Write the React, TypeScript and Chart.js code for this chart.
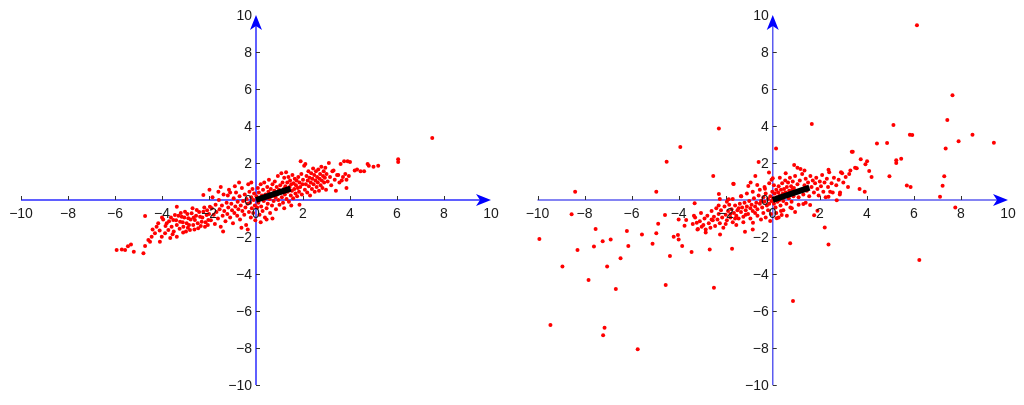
import React, { useEffect, useRef } from "react";
import { Chart, registerables } from "chart.js";

Chart.register(...registerables);

const tickValues = [-10, -8, -6, -4, -2, 0, 2, 4, 6, 8, 10];

const leftCloud: number[][] = [
  [-5.93,-2.70],[-5.71,-2.67],[-5.57,-2.70],[-5.45,-2.50],[-5.32,-2.41],[-5.20,-2.80],[-4.79,-2.88],[-4.72,-2.49],[-4.72,-0.86],[-4.58,-2.16],[-4.51,-2.25],[-4.44,-1.98],[-4.30,-1.80],[-4.23,-1.44],[-4.16,-1.26],[-4.09,-2.25],[-4.01,-1.98],[-3.87,-1.80],[-3.80,-1.26],[-3.73,-1.62],[-3.59,-1.44],[-3.52,-1.08],[-3.45,-0.81],[-3.37,-0.36],[-3.37,-1.35],[-3.37,-1.98],[-3.23,-1.17],[-3.16,-0.90],[-3.09,-1.44],[-3.02,-0.63],[-2.95,-1.26],[-2.88,-0.99],[-2.81,-1.62],[-2.74,-0.72],[-2.67,-1.35],[-2.60,-1.08],[-2.52,-0.54],[-2.46,-1.53],[-2.38,-0.90],[-2.31,-1.17],[-2.24,0.27],[-2.24,-0.63],[-2.17,-1.44],[-2.10,-0.81],[-2.03,-1.08],[-1.96,-0.36],
  [-3.95,-1.05],[-3.70,-1.15],[-3.62,-0.95],[-3.50,-1.70],[-3.40,-1.10],[-3.30,-0.85],[-3.25,-1.55],[-3.12,-1.20],[-3.05,-0.95],[-2.98,-1.70],[-2.92,-0.75],[-2.85,-1.35],[-2.78,-1.05],[-2.70,-0.45],[-2.62,-1.60],[-2.55,-0.85],[-2.48,-1.25],[-2.42,-0.65],[-2.35,-1.40],[-2.28,-0.95],[-2.20,-0.40],[-2.15,-1.20],[-2.08,-0.55],[-2.05,-1.35],[-2.00,-0.75],[-4.10,-1.65],[-3.85,-1.40],[-4.40,-1.60],[-4.00,-0.95],[-3.55,-1.85],[-3.20,-0.70],[-2.90,-1.50],[-2.65,-0.95],[-3.65,-2.05],[-3.10,-1.75],
  [-1.92,-1.10],[-1.88,-0.45],[-1.85,0.15],[-1.80,-0.80],[-1.75,-1.30],[-1.72,-0.25],[-1.68,-0.65],[-1.62,-1.00],[-1.58,0.00],[-1.55,-0.50],[-1.50,-1.45],[-1.45,-0.30],[-1.42,-0.85],[-1.38,0.30],[-1.35,-0.60],[-1.30,-1.15],[-1.25,-0.15],[-1.22,-0.75],[-1.18,-0.40],[-1.15,0.55],[-1.10,-0.95],[-1.05,-0.20],[-1.02,-0.55],[-0.98,-1.25],[-0.95,0.10],[-0.92,-0.70],[-0.88,-0.35],[-0.85,0.40],[-0.80,-0.85],[-0.78,-0.10],[-0.75,-0.50],[-0.70,0.20],[-0.68,-1.05],[-0.65,-0.30],[-0.60,0.65],[-0.58,-0.60],[-0.55,-0.05],[-0.50,-0.80],[-0.48,0.30],[-0.45,-0.40],[-0.42,-1.35],[-0.40,0.05],[-0.36,-0.20],[-0.33,0.85],[-0.30,-0.65],[-0.28,0.45],[-0.25,-0.15],[-0.22,-0.95],[-0.20,0.15],[-0.18,-0.45],[-0.15,0.60],[-0.12,-0.70],[-0.10,0.00],[-0.08,0.35],[-0.05,-0.30],[-0.03,-1.10],[-1.98,0.55],[-1.60,0.45],[-1.20,0.25],[-0.90,0.75],[-0.62,-1.50],[-0.35,-1.60],[-0.20,0.95],[-1.50,0.70],[-1.10,0.40],[-1.40,-1.70],[-0.72,0.95],
  [0.02,0.20],[0.05,-0.40],[0.08,0.65],[0.10,-0.15],[0.12,0.40],[0.15,-0.80],[0.18,0.05],[0.20,0.85],[0.22,-0.35],[0.25,0.25],[0.28,-0.60],[0.30,0.55],[0.33,-0.05],[0.35,0.95],[0.38,-0.95],[0.40,0.30],[0.43,0.10],[0.45,-0.45],[0.48,0.70],[0.50,-0.20],[0.53,0.45],[0.55,1.10],[0.58,0.05],[0.60,-0.70],[0.63,0.60],[0.65,0.20],[0.68,-0.30],[0.70,0.85],[0.73,0.35],[0.75,-0.05],[0.78,0.50],[0.80,1.00],[0.83,0.15],[0.85,-0.50],[0.88,0.70],[0.90,0.30],[0.93,1.30],[0.95,0.00],[0.98,0.55],[1.00,-0.25],[1.03,0.80],[1.05,0.40],[1.08,1.45],[1.10,0.15],[1.13,0.95],[1.15,-0.15],[1.18,0.60],[1.20,1.20],[1.23,0.30],[1.25,0.75],[1.28,1.50],[1.30,0.05],[1.33,0.95],[1.35,0.45],[1.38,1.25],[1.40,-0.10],[1.43,0.70],[1.45,1.05],[1.48,0.25],[1.50,0.85],[1.53,0.50],[1.55,1.35],[1.58,0.10],[1.60,0.90],[1.63,0.60],[1.65,1.15],[1.68,0.35],[1.70,0.80],[1.73,1.05],[1.75,0.20],[1.78,0.65],[1.80,1.25],[1.83,0.45],[1.85,0.95],[1.88,0.70],[1.90,2.10],[1.93,1.40],[1.95,0.30],[1.98,0.85],[0.45,-1.05],[0.20,-1.20],[0.70,-1.00],[1.20,-0.45],[1.50,-0.30],[1.85,-0.25],
  [2.00,1.10],[2.05,1.85],[2.08,0.55],[2.10,1.95],[2.12,0.85],[2.15,1.30],[2.18,0.40],[2.20,1.05],[2.23,1.55],[2.25,0.75],[2.28,1.20],[2.30,0.25],[2.33,0.95],[2.35,1.45],[2.38,0.60],[2.40,1.15],[2.43,1.70],[2.45,0.85],[2.48,1.35],[2.50,0.45],[2.53,1.05],[2.55,1.55],[2.58,0.70],[2.60,1.25],[2.63,0.95],[2.65,1.65],[2.68,0.50],[2.70,1.15],[2.73,1.40],[2.75,0.80],[2.78,1.80],[2.80,1.05],[2.83,0.65],[2.85,1.30],[2.88,1.55],[2.90,0.95],[2.93,1.20],[2.95,1.75],[2.98,0.55],[3.00,1.40],[3.05,1.00],[3.10,2.00],[3.15,1.25],[3.20,0.80],[3.25,1.55],[3.30,1.60],[3.35,1.10],[3.40,0.50],[3.45,1.35],[3.50,1.35],[3.55,0.95],[3.60,1.95],[3.65,1.05],[3.70,1.25],[3.75,2.10],[3.80,1.40],[3.85,0.65],[3.85,1.10],[3.90,2.10],[3.95,1.30],
  [4.00,2.05],[4.20,1.60],[4.30,1.65],[4.45,1.55],[4.60,1.55],[4.75,1.95],[4.80,1.85],[5.00,1.80],[5.20,1.85],[6.05,2.20],[6.05,2.05],[7.50,3.35]
];

const rightCloud: number[][] = [
  [-3.40,-1.30],[-3.30,-0.95],[-3.20,-1.60],[-3.10,-1.15],[-3.05,-0.70],[-2.95,-1.35],[-2.90,-1.00],[-2.85,-1.75],[-2.78,-0.85],[-2.72,-1.25],[-2.65,-1.50],[-2.60,-0.60],[-2.55,-1.10],[-2.50,-0.90],[-2.45,-1.40],[-2.40,-0.45],[-2.35,-1.05],[-2.30,-0.75],[-2.25,-1.25],[-2.20,-0.55],[-2.15,-0.95],[-2.10,-1.50],[-2.05,-0.35],[-2.00,-0.80],[-1.95,-1.10],[-1.90,-0.60],[-1.85,-0.25],[-1.80,-0.95],[-1.75,-0.50],[-1.70,-1.20],[-1.65,-0.70],[-1.60,-0.30],[-1.55,-0.85],[-1.50,-0.55],[-1.45,-1.00],[-1.40,-0.20],[-1.35,-0.65],[-1.30,-0.40],[-1.25,-0.90],[-1.20,-0.15],[-1.15,-0.55],[-1.10,-0.35],[-1.05,-0.75],[-1.00,-0.05],[-0.95,-0.45],[-0.90,-0.25],[-0.85,-0.60],[-0.80,0.10],[-0.75,-0.35],[-0.70,-0.15],[-0.65,-0.50],[-0.60,0.25],[-0.55,-0.20],[-0.50,-0.05],[-0.45,-0.40],[-0.40,0.15],[-0.35,-0.10],[-0.30,0.35],[-0.25,-0.30],[-0.20,0.05],[-0.15,-0.20],[-0.10,0.20],[-0.05,-0.05],[-0.02,0.45],[-1.95,-0.10],[-1.70,0.05],[-1.35,0.20],[-1.10,0.35],[-0.85,0.45],[-0.55,0.55],[-0.35,0.70],[-0.15,0.90],[-2.25,0.05],[-1.55,-1.35],[-1.25,-1.20],[-0.95,-1.00],[-0.65,-0.85],[-0.40,-0.70],[-0.20,-0.55],[-0.08,-0.75],[-0.50,-1.05],[-0.30,-0.95],[-1.80,-0.75],[-1.45,-0.45],[-1.15,-0.80],[-0.75,-0.70],[-2.60,-1.05],[-2.30,-0.30],[-2.00,-1.30],[-1.60,-1.00],
  [0.02,0.10],[0.05,-0.20],[0.08,0.35],[0.10,0.05],[0.12,-0.40],[0.15,0.55],[0.18,0.15],[0.20,-0.10],[0.23,0.40],[0.25,0.75],[0.28,0.00],[0.30,0.25],[0.33,-0.30],[0.35,0.55],[0.38,0.15],[0.40,0.90],[0.43,0.35],[0.45,-0.05],[0.48,0.60],[0.50,0.20],[0.53,1.05],[0.55,0.40],[0.58,-0.20],[0.60,0.70],[0.63,0.30],[0.65,0.95],[0.68,0.10],[0.70,0.50],[0.73,1.20],[0.75,0.30],[0.78,0.75],[0.80,-0.10],[0.83,0.55],[0.85,1.00],[0.88,0.20],[0.90,0.65],[0.95,1.30],[1.00,0.40],[1.05,0.85],[1.10,0.15],[1.15,1.05],[1.20,0.55],[1.25,1.40],[1.30,0.30],[1.35,0.80],[1.40,1.15],[1.45,0.50],[1.50,0.95],[1.55,0.20],[1.60,1.30],[1.65,0.70],[1.70,1.05],[1.75,0.40],[1.80,0.90],[1.85,1.20],[1.90,0.60],[1.95,0.25],[2.00,1.00],[2.05,0.75],[2.10,1.35],[2.15,0.45],[2.20,0.95],[2.25,0.15],[2.30,1.15],[2.35,0.70],[2.40,1.50],[2.50,0.90],[2.55,0.40],[2.60,1.20],[2.70,0.80],[2.80,1.10],[2.85,0.30],[2.90,1.50],[3.00,0.95],[3.10,1.25],[3.20,0.70],[0.30,1.20],[0.55,1.45],[1.05,1.75],[1.35,1.60],[0.15,-0.70],[0.45,-0.55],[0.75,-0.40],[1.10,-0.25],[1.40,-0.15],[0.95,-0.65],[0.25,-0.95],[0.60,-0.85],[0.05,0.80],[0.35,-0.60],[-0.05,1.10]
];

const rightOutliers: number[][] = [
  [-8.40,0.45],[-4.95,0.45],[-8.55,-0.77],[-9.92,-2.11],[-9.45,-6.76],[-8.94,-3.60],[-8.30,-2.70],[-7.83,-4.32],[-7.60,-2.52],[-7.53,-1.57],[-7.23,-2.23],[-7.15,-6.90],[-7.21,-7.31],[-7.04,-3.60],[-6.89,-2.13],[-6.67,-4.81],[-6.47,-3.15],[-6.20,-1.68],[-6.14,-2.49],[-5.74,-8.07],[-5.56,-1.86],[-5.11,-2.36],[-4.95,-1.80],[-4.87,-1.28],[-4.55,-4.59],[-4.58,-0.81],[-4.37,-3.03],[-4.21,-1.98],[-4.03,-1.89],[-4.00,-2.13],[-4.00,-1.05],[-3.85,-2.49],[-3.75,-1.39],[-3.68,-1.08],[-3.45,-2.81],[-3.35,-0.85],[-3.32,-0.18],[-3.23,-1.23],[-3.18,-1.57],[-3.02,-1.44],[-2.85,-1.59],[-2.68,-2.67],[-2.50,-4.74],[-2.53,1.30],[-2.29,0.32],[-2.24,-1.86],[-1.73,-2.63],[-1.66,0.86],[-1.87,0.04],[-1.18,-1.71],[-0.85,-1.59],[-0.84,-1.23],[-1.04,0.76],[-0.94,0.94],[-0.74,1.30],[-0.66,0.81],[-0.33,0.61],[-0.16,1.48],[-0.11,-1.14],[-4.51,2.07],[-3.93,2.86],[-2.29,3.87],[-1.34,0.20],[-0.60,2.05],[0.00,1.17],
  [6.13,9.44],[7.64,5.66],[7.42,4.32],[5.13,4.05],[1.66,4.11],[5.83,3.53],[5.93,3.51],[8.49,3.53],[9.40,3.10],[7.90,3.17],[7.35,2.78],[4.43,3.06],[4.86,3.08],[0.14,2.78],[3.40,2.61],[3.74,2.20],[4.01,2.09],[3.94,1.93],[5.25,2.15],[5.25,2.00],[5.46,2.23],[3.50,1.75],[3.30,1.59],[3.25,1.41],[4.10,1.57],[4.20,1.24],[4.96,1.28],[7.29,1.28],[7.22,0.77],[5.70,0.79],[5.86,0.70],[3.69,0.59],[3.91,0.45],[7.11,0.18],[0.91,1.89],[1.18,1.68],[2.37,1.64],[2.95,1.44],[7.76,-0.40],[2.21,-1.48],[2.37,-2.40],[0.74,-2.34],[6.23,-3.24],[0.86,-5.46],[1.76,-0.83],[1.90,-0.58],[0.17,-0.99],[0.38,-0.81],[0.81,-0.45],[1.30,-0.22],[1.59,-0.27],[2.72,-0.02],[2.37,0.18],[2.44,0.45],[2.86,0.40],[3.36,2.61],[3.57,1.71],[-1.68,0.88]
];

const leftDirection: number[][] = [[0, 0], [1.47, 0.61]];
const rightDirection: number[][] = [[0, 0], [1.56, 0.67]];

const toXY = (arr: number[][]) => arr.map(([x, y]) => ({ x, y }));
const fmt = (v: number) => (v < 0 ? "\u2212" + Math.abs(v) : String(v));

const centerAxes = {
  id: "centerAxes",
  beforeDatasetsDraw(chart: any, _args: any, opts: any) {
    const { ctx } = chart;
    const xs = chart.scales.x;
    const ys = chart.scales.y;
    const x0 = xs.getPixelForValue(0);
    const y0 = ys.getPixelForValue(0);
    const xL = xs.getPixelForValue(-10);
    const xR = xs.getPixelForValue(10);
    const yT = ys.getPixelForValue(10);
    const yB = ys.getPixelForValue(-10);
    ctx.save();
    ctx.strokeStyle = opts.color;
    ctx.lineWidth = 1.5;
    ctx.beginPath();
    ctx.moveTo(xL, y0);
    ctx.lineTo(xR - 8, y0);
    ctx.moveTo(x0, yB);
    ctx.lineTo(x0, yT + 8);
    ctx.stroke();
    ctx.strokeStyle = "#333";
    ctx.lineWidth = 1;
    ctx.beginPath();
    for (const v of tickValues) {
      if (v === 10 || v === 0) continue;
      const px = Math.round(xs.getPixelForValue(v)) + 0.5;
      ctx.moveTo(px, y0);
      ctx.lineTo(px, y0 - 4);
      const py = Math.round(ys.getPixelForValue(v)) + 0.5;
      ctx.moveTo(x0, py);
      ctx.lineTo(x0 + 4, py);
    }
    ctx.stroke();
    ctx.fillStyle = opts.arrow;
    ctx.beginPath();
    ctx.moveTo(xR, y0);
    ctx.lineTo(xR - 15, y0 - 6);
    ctx.lineTo(xR - 11, y0);
    ctx.lineTo(xR - 15, y0 + 6);
    ctx.closePath();
    ctx.fill();
    ctx.beginPath();
    ctx.moveTo(x0, yT);
    ctx.lineTo(x0 - 6, yT + 15);
    ctx.lineTo(x0, yT + 11);
    ctx.lineTo(x0 + 6, yT + 15);
    ctx.closePath();
    ctx.fill();
    ctx.restore();
  },
  afterDatasetsDraw(chart: any) {
    const { ctx } = chart;
    const xs = chart.scales.x;
    const ys = chart.scales.y;
    const x0 = xs.getPixelForValue(0);
    const y0 = ys.getPixelForValue(0);
    ctx.save();
    ctx.fillStyle = "#1a1a1a";
    ctx.font = '14px "Liberation Sans", Arial, sans-serif';
    ctx.textBaseline = "alphabetic";
    ctx.textAlign = "center";
    for (const v of tickValues) {
      ctx.fillText(fmt(v), xs.getPixelForValue(v), y0 + 18);
    }
    ctx.textAlign = "right";
    for (const v of tickValues) {
      ctx.fillText(fmt(v), x0 - 4, ys.getPixelForValue(v) + 5);
    }
    ctx.restore();
  },
};

function makeConfig(points: number[][], dir: number[][], pad: any, color: string, arrow: string): any {
  return {
    type: "scatter",
    data: {
      datasets: [
        {
          type: "line",
          data: toXY(dir),
          borderColor: "#000",
          borderWidth: 6,
          borderCapStyle: "butt",
          pointRadius: 0,
          showLine: true,
          fill: false,
          order: 0,
        },
        {
          data: toXY(points),
          backgroundColor: "#ff0000",
          borderWidth: 0,
          pointRadius: 2,
          order: 1,
        },
      ],
    },
    options: {
      responsive: false,
      animation: false,
      layout: { padding: pad },
      clip: false,
      scales: {
        x: { type: "linear", min: -10, max: 10, display: false },
        y: { type: "linear", min: -10, max: 10, display: false },
      },
      plugins: {
        legend: { display: false },
        tooltip: { enabled: false },
        centerAxes: { color, arrow },
      },
    },
    plugins: [centerAxes],
  };
}

export default function App() {
  const leftRef = useRef<HTMLCanvasElement>(null);
  const rightRef = useRef<HTMLCanvasElement>(null);

  useEffect(() => {
    const c1 = new Chart(
      leftRef.current as HTMLCanvasElement,
      makeConfig(leftCloud, leftDirection, { left: 21, right: 21, top: 15, bottom: 20 }, "#2b2bff", "#0000ff")
    );
    const c2 = new Chart(
      rightRef.current as HTMLCanvasElement,
      makeConfig(rightCloud.concat(rightOutliers), rightDirection, { left: 25.5, right: 16, top: 15, bottom: 20 }, "#5c5cf0", "#0000ff")
    );
    return () => {
      c1.destroy();
      c2.destroy();
    };
  }, []);

  return (
    <div style={{ position: "absolute", left: 0, top: 0, width: 1024, height: 405, background: "#fff" }}>
      <canvas ref={leftRef} width={512} height={405} style={{ position: "absolute", left: 0, top: 0, width: 512, height: 405 }} />
      <canvas ref={rightRef} width={512} height={405} style={{ position: "absolute", left: 512, top: 0, width: 512, height: 405 }} />
    </div>
  );
}
